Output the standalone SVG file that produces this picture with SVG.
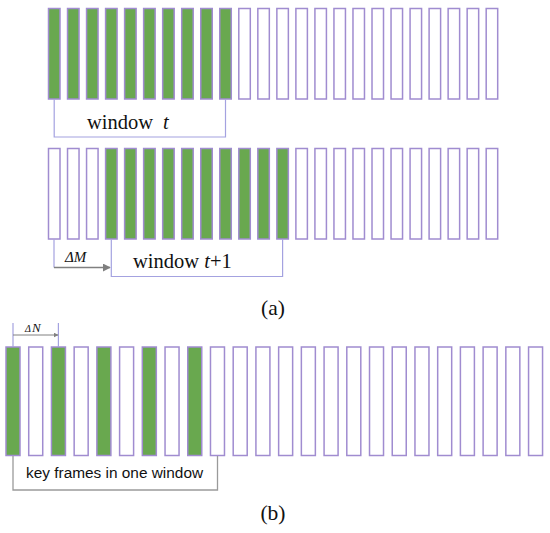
<svg xmlns="http://www.w3.org/2000/svg" width="550" height="533" viewBox="0 0 550 533">
<defs>
<style>
.bar{fill:#ffffff;stroke:#a08cd0;stroke-width:1.5}
.g{fill:#69a84f}
.br{fill:none;stroke:#a4a2e0;stroke-width:1.2}
.gr{fill:none;stroke:#9a9a9a;stroke-width:1.3}
.ser{font-family:"Liberation Serif","Times New Roman",serif;fill:#111}
.sans{font-family:"Liberation Sans",Arial,sans-serif;fill:#111}
</style>
<marker id="arr" viewBox="0 0 10 10" refX="9" refY="5" markerWidth="5" markerHeight="5" orient="auto" markerUnits="userSpaceOnUse"><path d="M0,0 L10,5 L0,10 z" fill="#808080"/></marker>
<marker id="arr2" viewBox="0 0 10 10" refX="9" refY="5" markerWidth="8" markerHeight="8" orient="auto" markerUnits="userSpaceOnUse"><path d="M0,0 L10,5 L0,10 z" fill="#7f7f7f"/></marker>
</defs>
<rect width="550" height="533" fill="#ffffff"/>

<g id="row-a1">
<g id="a1-0"><rect class="bar g" x="48.5" y="8.5" width="11.5" height="90.5"/></g>
<g id="a1-1"><rect class="bar g" x="67.53" y="8.5" width="11.5" height="90.5"/></g>
<g id="a1-2"><rect class="bar g" x="86.56" y="8.5" width="11.5" height="90.5"/></g>
<g id="a1-3"><rect class="bar g" x="105.59" y="8.5" width="11.5" height="90.5"/></g>
<g id="a1-4"><rect class="bar g" x="124.62" y="8.5" width="11.5" height="90.5"/></g>
<g id="a1-5"><rect class="bar g" x="143.65" y="8.5" width="11.5" height="90.5"/></g>
<g id="a1-6"><rect class="bar g" x="162.68" y="8.5" width="11.5" height="90.5"/></g>
<g id="a1-7"><rect class="bar g" x="181.71" y="8.5" width="11.5" height="90.5"/></g>
<g id="a1-8"><rect class="bar g" x="200.74" y="8.5" width="11.5" height="90.5"/></g>
<g id="a1-9"><rect class="bar g" x="219.77" y="8.5" width="11.5" height="90.5"/></g>
<g id="a1-10"><rect class="bar" x="238.8" y="8.5" width="11.5" height="90.5"/></g>
<g id="a1-11"><rect class="bar" x="257.83" y="8.5" width="11.5" height="90.5"/></g>
<g id="a1-12"><rect class="bar" x="276.86" y="8.5" width="11.5" height="90.5"/></g>
<g id="a1-13"><rect class="bar" x="295.89" y="8.5" width="11.5" height="90.5"/></g>
<g id="a1-14"><rect class="bar" x="314.92" y="8.5" width="11.5" height="90.5"/></g>
<g id="a1-15"><rect class="bar" x="333.95" y="8.5" width="11.5" height="90.5"/></g>
<g id="a1-16"><rect class="bar" x="352.98" y="8.5" width="11.5" height="90.5"/></g>
<g id="a1-17"><rect class="bar" x="372.01" y="8.5" width="11.5" height="90.5"/></g>
<g id="a1-18"><rect class="bar" x="391.04" y="8.5" width="11.5" height="90.5"/></g>
<g id="a1-19"><rect class="bar" x="410.07" y="8.5" width="11.5" height="90.5"/></g>
<g id="a1-20"><rect class="bar" x="429.1" y="8.5" width="11.5" height="90.5"/></g>
<g id="a1-21"><rect class="bar" x="448.13" y="8.5" width="11.5" height="90.5"/></g>
<g id="a1-22"><rect class="bar" x="467.16" y="8.5" width="11.5" height="90.5"/></g>
<g id="a1-23"><rect class="bar" x="486.19" y="8.5" width="11.5" height="90.5"/></g>
</g>

<g id="row-a2">
<g id="a2-0"><rect class="bar" x="48.5" y="148.5" width="11.5" height="90.5"/></g>
<g id="a2-1"><rect class="bar" x="67.53" y="148.5" width="11.5" height="90.5"/></g>
<g id="a2-2"><rect class="bar" x="86.56" y="148.5" width="11.5" height="90.5"/></g>
<g id="a2-3"><rect class="bar g" x="105.59" y="148.5" width="11.5" height="90.5"/></g>
<g id="a2-4"><rect class="bar g" x="124.62" y="148.5" width="11.5" height="90.5"/></g>
<g id="a2-5"><rect class="bar g" x="143.65" y="148.5" width="11.5" height="90.5"/></g>
<g id="a2-6"><rect class="bar g" x="162.68" y="148.5" width="11.5" height="90.5"/></g>
<g id="a2-7"><rect class="bar g" x="181.71" y="148.5" width="11.5" height="90.5"/></g>
<g id="a2-8"><rect class="bar g" x="200.74" y="148.5" width="11.5" height="90.5"/></g>
<g id="a2-9"><rect class="bar g" x="219.77" y="148.5" width="11.5" height="90.5"/></g>
<g id="a2-10"><rect class="bar g" x="238.8" y="148.5" width="11.5" height="90.5"/></g>
<g id="a2-11"><rect class="bar g" x="257.83" y="148.5" width="11.5" height="90.5"/></g>
<g id="a2-12"><rect class="bar g" x="276.86" y="148.5" width="11.5" height="90.5"/></g>
<g id="a2-13"><rect class="bar" x="295.89" y="148.5" width="11.5" height="90.5"/></g>
<g id="a2-14"><rect class="bar" x="314.92" y="148.5" width="11.5" height="90.5"/></g>
<g id="a2-15"><rect class="bar" x="333.95" y="148.5" width="11.5" height="90.5"/></g>
<g id="a2-16"><rect class="bar" x="352.98" y="148.5" width="11.5" height="90.5"/></g>
<g id="a2-17"><rect class="bar" x="372.01" y="148.5" width="11.5" height="90.5"/></g>
<g id="a2-18"><rect class="bar" x="391.04" y="148.5" width="11.5" height="90.5"/></g>
<g id="a2-19"><rect class="bar" x="410.07" y="148.5" width="11.5" height="90.5"/></g>
<g id="a2-20"><rect class="bar" x="429.1" y="148.5" width="11.5" height="90.5"/></g>
<g id="a2-21"><rect class="bar" x="448.13" y="148.5" width="11.5" height="90.5"/></g>
<g id="a2-22"><rect class="bar" x="467.16" y="148.5" width="11.5" height="90.5"/></g>
<g id="a2-23"><rect class="bar" x="486.19" y="148.5" width="11.5" height="90.5"/></g>
</g>

<g id="row-b">
<g id="b-0"><rect class="bar g" x="6" y="347" width="14" height="108.5"/></g>
<g id="b-1"><rect class="bar" x="28.72" y="347" width="14" height="108.5"/></g>
<g id="b-2"><rect class="bar g" x="51.44" y="347" width="14" height="108.5"/></g>
<g id="b-3"><rect class="bar" x="74.16" y="347" width="14" height="108.5"/></g>
<g id="b-4"><rect class="bar g" x="96.88" y="347" width="14" height="108.5"/></g>
<g id="b-5"><rect class="bar" x="119.6" y="347" width="14" height="108.5"/></g>
<g id="b-6"><rect class="bar g" x="142.32" y="347" width="14" height="108.5"/></g>
<g id="b-7"><rect class="bar" x="165.04" y="347" width="14" height="108.5"/></g>
<g id="b-8"><rect class="bar g" x="187.76" y="347" width="14" height="108.5"/></g>
<g id="b-9"><rect class="bar" x="210.48" y="347" width="14" height="108.5"/></g>
<g id="b-10"><rect class="bar" x="233.2" y="347" width="14" height="108.5"/></g>
<g id="b-11"><rect class="bar" x="255.92" y="347" width="14" height="108.5"/></g>
<g id="b-12"><rect class="bar" x="278.64" y="347" width="14" height="108.5"/></g>
<g id="b-13"><rect class="bar" x="301.36" y="347" width="14" height="108.5"/></g>
<g id="b-14"><rect class="bar" x="324.08" y="347" width="14" height="108.5"/></g>
<g id="b-15"><rect class="bar" x="346.8" y="347" width="14" height="108.5"/></g>
<g id="b-16"><rect class="bar" x="369.52" y="347" width="14" height="108.5"/></g>
<g id="b-17"><rect class="bar" x="392.24" y="347" width="14" height="108.5"/></g>
<g id="b-18"><rect class="bar" x="414.96" y="347" width="14" height="108.5"/></g>
<g id="b-19"><rect class="bar" x="437.68" y="347" width="14" height="108.5"/></g>
<g id="b-20"><rect class="bar" x="460.4" y="347" width="14" height="108.5"/></g>
<g id="b-21"><rect class="bar" x="483.12" y="347" width="14" height="108.5"/></g>
<g id="b-22"><rect class="bar" x="505.84" y="347" width="14" height="108.5"/></g>
<g id="b-23"><rect class="bar" x="528.56" y="347" width="14" height="108.5"/></g>
</g>

<g id="connectors">
<polyline class="br" points="54.2,99.5 54.2,137 225.5,137 225.5,99.5"/>
<line class="br" x1="54" y1="239.5" x2="54" y2="267.5"/>
<line x1="54" y1="267.5" x2="110" y2="267.5" stroke="#808080" stroke-width="1.5" marker-end="url(#arr2)"/>
<polyline class="br" points="111.3,239.5 111.3,276.5 282.6,276.5 282.6,239.5"/>
<line class="br" x1="13" y1="323" x2="13" y2="347"/>
<line class="br" x1="58.4" y1="323" x2="58.4" y2="347"/>
<line x1="13" y1="335" x2="58" y2="335" stroke="#808080" stroke-width="1" marker-end="url(#arr)"/>
<polyline class="gr" points="13,456 13,490 217.5,490 217.5,456"/>
</g>

<g id="labels">
<text class="ser" x="87" y="129" font-size="20.5">window<tspan x="163" font-style="italic">t</tspan></text>
<text class="ser" x="133" y="268" font-size="20.5">window <tspan font-style="italic">t</tspan>+1</text>
<text class="ser" x="65" y="261.5" font-size="15" font-style="italic">ΔM</text>
<text class="ser" x="25" y="331.5" font-style="italic"><tspan font-size="10">Δ</tspan><tspan x="32" font-size="13">N</tspan></text>
<text class="sans" x="26" y="478" font-size="15.4">key frames in one window</text>
<text class="ser" x="273" y="315" font-size="21.5" text-anchor="middle">(a)</text>
<text class="ser" x="273" y="520" font-size="21.5" text-anchor="middle">(b)</text>
</g>
</svg>
